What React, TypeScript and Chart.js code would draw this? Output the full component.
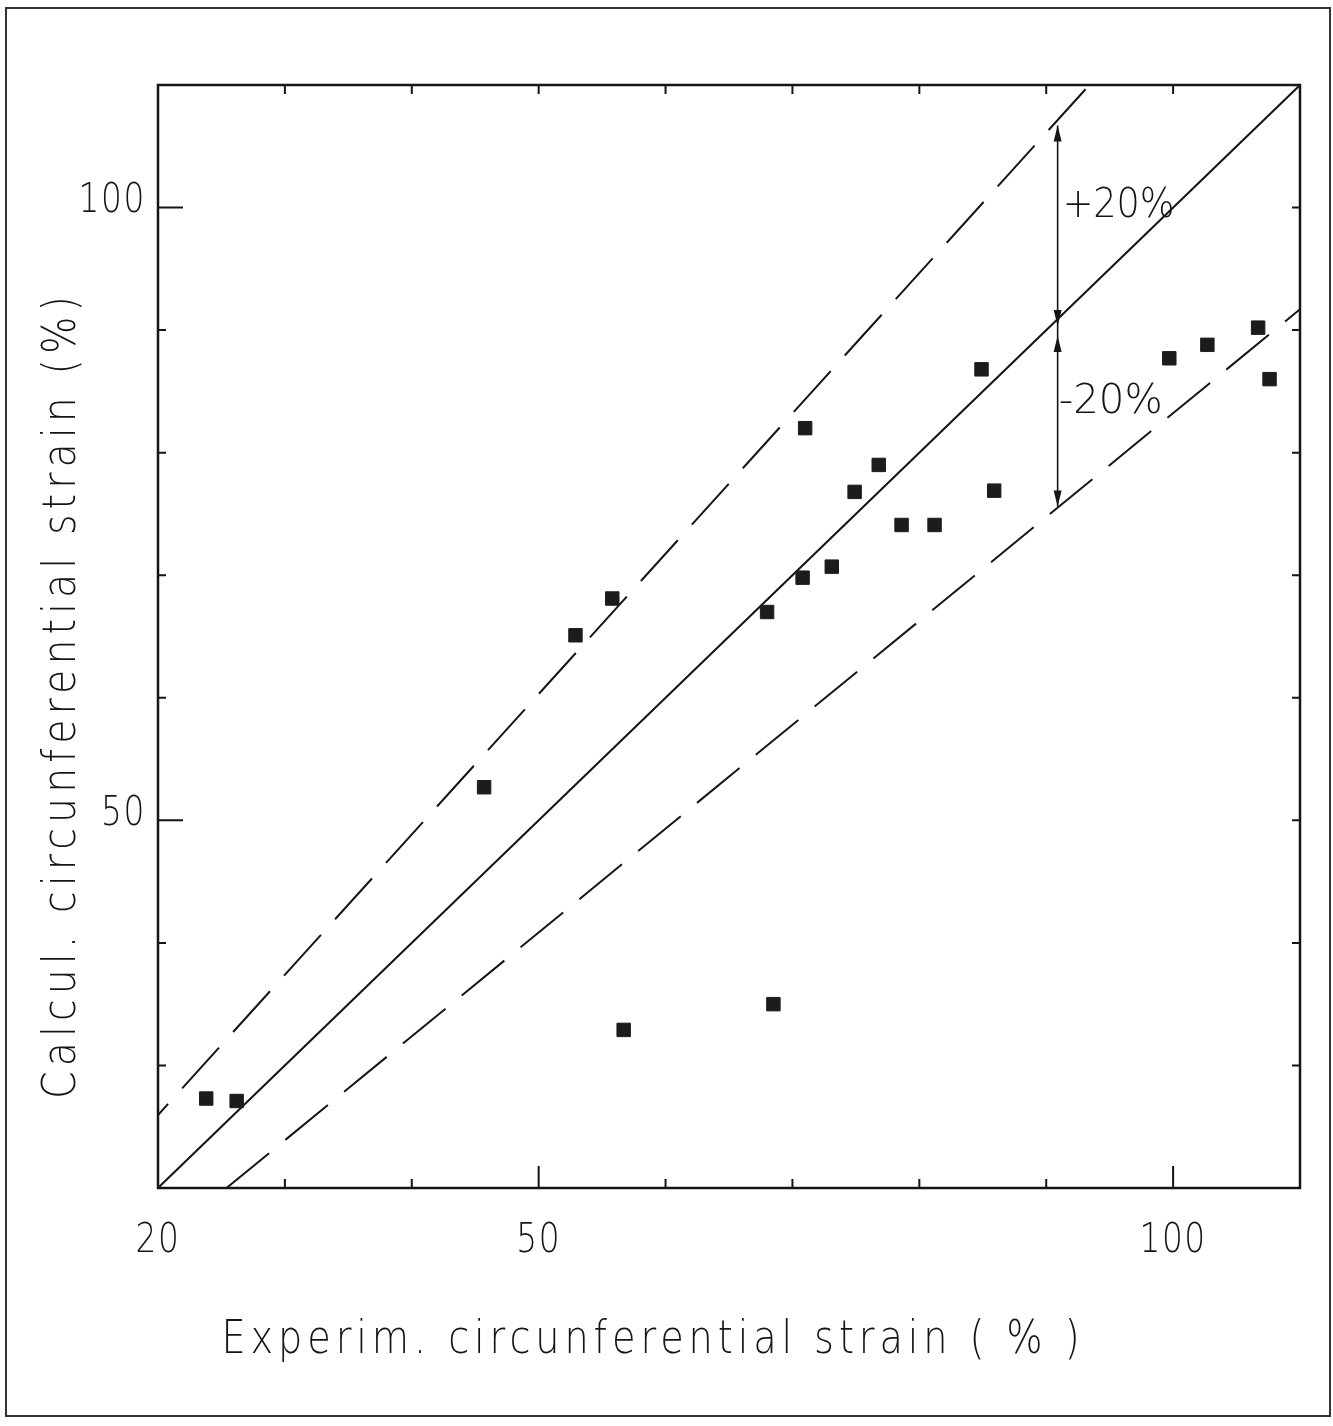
import React, { useEffect, useRef } from "react";
import { Chart, registerables } from "chart.js";

Chart.register(...registerables);

// ---- data ----
const X_MIN = 20;
const X_MAX = 110;
const Y_MIN = 20;
const Y_MAX = 110;

const TICK_VALUES = [30, 40, 50, 60, 70, 80, 90, 100];
const X_TICK_LABELS = [20, 50, 100];
const Y_TICK_LABELS = [50, 100];

const EXP_STRAIN = [23.8, 26.2, 45.7, 52.9, 55.8, 56.7, 68.0, 68.5, 70.8, 71.0, 73.1, 74.9, 76.8, 78.6, 81.2, 84.9, 85.9, 99.7, 102.7, 106.7, 107.6];
const CALC_STRAIN = [27.3, 27.1, 52.7, 65.1, 68.1, 32.9, 67.0, 35.0, 69.8, 82.0, 70.7, 76.8, 79.0, 74.1, 74.1, 86.8, 76.9, 87.7, 88.8, 90.2, 86.0];

const IDENTITY_X = [20, 110];
const IDENTITY_Y = [20, 110];
const UPPER_X = [20, 93.4];
const UPPER_Y = [25.95, 110];
const LOWER_X = [25.4, 110];
const LOWER_Y = [20, 91.7];

const ARROW_X = 90.9;
const ARROW_Y = [106.7, 90, 75.6];

const X_TITLE = "Experim. circunferential strain ( % )";
const Y_TITLE = "Calcul. circunferential strain (%)";
const PLUS_LABEL = "+20%";
const MINUS_LABEL = "-20%";

const INK = "#151515";
const FONT_FAMILY = '"DejaVu Sans", "Liberation Sans", sans-serif';
const FONT_WEIGHT = "200";

function pairs(xs: number[], ys: number[]) {
  return xs.map((x, i) => ({ x, y: ys[i] }));
}

function drawText(
  ctx: CanvasRenderingContext2D,
  text: string,
  x: number,
  y: number,
  opts: {
    size: number;
    align?: CanvasTextAlign;
    baseline?: CanvasTextBaseline;
    sx?: number;
    width?: number;
    rotate?: number;
    spacing?: number;
  }
) {
  ctx.save();
  ctx.font = `normal ${FONT_WEIGHT} ${opts.size}px ${FONT_FAMILY}`;
  (ctx as any).letterSpacing = `${opts.spacing ?? 0}px`;
  ctx.fillStyle = INK;
  ctx.textAlign = opts.align ?? "left";
  ctx.textBaseline = opts.baseline ?? "alphabetic";
  let sx = opts.sx ?? 1;
  if (opts.width) {
    const m = ctx.measureText(text).width;
    sx = opts.width / m;
  }
  ctx.translate(x, y);
  if (opts.rotate) ctx.rotate(opts.rotate);
  ctx.scale(sx, 1);
  ctx.fillText(text, 0, 0);
  ctx.restore();
}

function arrowHead(ctx: CanvasRenderingContext2D, x: number, tipY: number, dir: number) {
  // dir = -1 points up, +1 points down
  const len = 16;
  const half = 4;
  ctx.beginPath();
  ctx.moveTo(x, tipY);
  ctx.lineTo(x - half, tipY - dir * len);
  ctx.lineTo(x + half, tipY - dir * len);
  ctx.closePath();
  ctx.fill();
}

const overlayPlugin = {
  id: "overlay",
  beforeDraw(chart: any) {
    const ctx: CanvasRenderingContext2D = chart.ctx;
    ctx.save();
    ctx.fillStyle = "#ffffff";
    ctx.fillRect(0, 0, chart.width, chart.height);
    ctx.strokeStyle = "#333";
    ctx.lineWidth = 2;
    ctx.strokeRect(6, 8, chart.width - 9, chart.height - 18);
    ctx.restore();
  },
  afterDatasetsDraw(chart: any) {
    const ctx: CanvasRenderingContext2D = chart.ctx;
    const xs = chart.scales.x;
    const ys = chart.scales.y;
    const { left, right, top, bottom } = chart.chartArea;

    ctx.save();
    ctx.strokeStyle = INK;
    ctx.fillStyle = INK;
    ctx.lineWidth = 2.5;
    ctx.strokeRect(left, top, right - left, bottom - top);

    // tick marks (inward)
    ctx.lineWidth = 2;
    ctx.beginPath();
    for (const v of TICK_VALUES) {
      const px = xs.getPixelForValue(v);
      const bl = X_TICK_LABELS.includes(v) ? 22 : 9;
      ctx.moveTo(px, bottom);
      ctx.lineTo(px, bottom - bl);
      ctx.moveTo(px, top);
      ctx.lineTo(px, top + 9);
      const py = ys.getPixelForValue(v);
      const ll = Y_TICK_LABELS.includes(v) ? 25 : 8;
      ctx.moveTo(left, py);
      ctx.lineTo(left + ll, py);
      ctx.moveTo(right, py);
      ctx.lineTo(right - 8, py);
    }
    ctx.stroke();

    // ±20% arrows
    const ax = xs.getPixelForValue(ARROW_X);
    const yTop = ys.getPixelForValue(ARROW_Y[0]);
    const yMid = ys.getPixelForValue(ARROW_Y[1]);
    const yBot = ys.getPixelForValue(ARROW_Y[2]);
    ctx.lineWidth = 1.6;
    ctx.beginPath();
    ctx.moveTo(ax, yTop);
    ctx.lineTo(ax, yBot);
    ctx.stroke();
    arrowHead(ctx, ax, yTop, -1);
    arrowHead(ctx, ax, yMid - 4, 1);
    arrowHead(ctx, ax, yMid + 6, -1);
    arrowHead(ctx, ax, yBot, 1);

    // annotation labels
    drawText(ctx, PLUS_LABEL, ax + 5, yTop + 92, { size: 40, width: 112 });
    drawText(ctx, MINUS_LABEL, ax + 1, yMid + 83, { size: 40, width: 104 });

    // tick labels
    for (const v of X_TICK_LABELS) {
      drawText(ctx, String(v), xs.getPixelForValue(v), 1252, { size: 41, align: "center", sx: 0.8, spacing: 2 });
    }
    for (const v of Y_TICK_LABELS) {
      drawText(ctx, String(v), 146, ys.getPixelForValue(v) - 6, { size: 41, align: "right", baseline: "middle", sx: 0.8, spacing: 2 });
    }

    // axis titles
    drawText(ctx, X_TITLE, 653, 1353, { size: 47, align: "center", width: 863, spacing: 6 });
    drawText(ctx, Y_TITLE, 75, 695, { size: 47, align: "center", width: 808, spacing: 6, rotate: -Math.PI / 2 });
    ctx.restore();
  },
};

export default function App() {
  const ref = useRef<HTMLCanvasElement | null>(null);

  useEffect(() => {
    if (!ref.current) return;
    const chart = new Chart(ref.current, {
      type: "scatter",
      data: {
        datasets: [
          {
            label: "points",
            data: pairs(EXP_STRAIN, CALC_STRAIN),
            pointStyle: "rect",
            pointRadius: 9.5,
            pointHoverRadius: 9.5,
            backgroundColor: "#1c1c1c",
            borderColor: "#1c1c1c",
            borderWidth: 1,
            showLine: false,
          },
          {
            label: "identity",
            data: pairs(IDENTITY_X, IDENTITY_Y),
            showLine: true,
            pointRadius: 0,
            borderColor: INK,
            borderWidth: 2,
          },
          {
            label: "+20%",
            data: pairs(UPPER_X, UPPER_Y),
            showLine: true,
            pointRadius: 0,
            borderColor: INK,
            borderWidth: 2,
            borderDash: [55, 21],
            borderDashOffset: 40,
          },
          {
            label: "-20%",
            data: pairs(LOWER_X, LOWER_Y),
            showLine: true,
            pointRadius: 0,
            borderColor: INK,
            borderWidth: 2,
            borderDash: [55, 21],
          },
        ],
      },
      options: {
        animation: false,
        responsive: false,
        devicePixelRatio: 1,
        layout: { padding: { top: 85, right: 33, left: 0, bottom: 0 } },
        plugins: {
          legend: { display: false },
          tooltip: { enabled: false },
          title: { display: false },
        },
        events: [],
        scales: {
          x: {
            type: "linear",
            min: X_MIN,
            max: X_MAX,
            grid: { display: false },
            border: { display: false },
            ticks: { display: false },
            afterFit: (s: any) => {
              s.height = 238;
            },
          },
          y: {
            type: "linear",
            min: Y_MIN,
            max: Y_MAX,
            grid: { display: false },
            border: { display: false },
            ticks: { display: false },
            afterFit: (s: any) => {
              s.width = 158;
            },
          },
        },
      },
      plugins: [overlayPlugin],
    } as any);
    return () => chart.destroy();
  }, []);

  return (
    <div style={{ position: "absolute", left: 0, top: 0, width: 1333, height: 1426, background: "#fff" }}>
      <canvas ref={ref} width={1333} height={1426} style={{ display: "block", width: 1333, height: 1426 }} />
    </div>
  );
}
